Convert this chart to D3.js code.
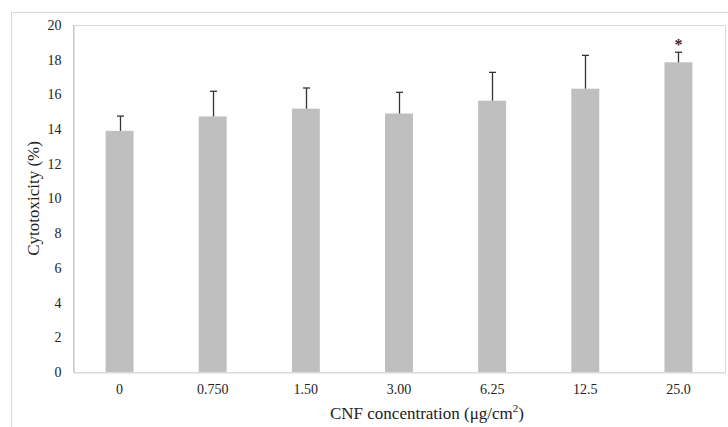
<!DOCTYPE html>
<html>
<head>
<meta charset="utf-8">
<script src="https://cdn.jsdelivr.net/npm/d3@7"></script>
<style>
  html, body { margin: 0; padding: 0; background: #fff; }
  svg { display: block; }
  svg text { font-family: "Liberation Serif", "DejaVu Serif", serif; fill: #222; }
</style>
</head>
<body>
<svg id="chart" width="728" height="427"></svg>
<script>
// CNF cytotoxicity data (mean and SD, %)
const categories = ["0", "0.750", "1.50", "3.00", "6.25", "12.5", "25.0"];
const means = [13.9, 14.73, 15.18, 14.9, 15.64, 16.33, 17.85];
const errors = [0.85, 1.45, 1.19, 1.22, 1.63, 1.92, 0.58];
const significant = [false, false, false, false, false, false, true];
const yTicks = [0, 2, 4, 6, 8, 10, 12, 14, 16, 18, 20];

const svg = d3.select("#chart");
const margin = { left: 73, right: 3, top: 25, bottom: 55 };
const W = 728, H = 427;
const serif = "'Liberation Serif', 'DejaVu Serif', serif";

// outer frame
svg.append("rect")
  .attr("x", 11.5).attr("y", 12.5)
  .attr("width", W + 10).attr("height", H + 10)
  .attr("fill", "none").attr("stroke", "#d9d9d9");

const x = d3.scaleBand()
  .domain(categories)
  .range([margin.left, W - margin.right])
  .paddingInner(0.7).paddingOuter(0.35);

const y = d3.scaleLinear()
  .domain([0, 20])
  .range([H - margin.bottom, margin.top]);

// plot area border
svg.append("rect")
  .attr("x", margin.left + 0.5).attr("y", margin.top + 0.5)
  .attr("width", W - margin.right - margin.left)
  .attr("height", y(0) - margin.top)
  .attr("fill", "none").attr("stroke", "#d9d9d9");

// bars
const data = categories.map((c, i) => ({ c, m: means[i], e: errors[i], s: significant[i] }));
svg.append("g").selectAll("rect").data(data).join("rect")
  .attr("x", d => x(d.c))
  .attr("y", d => y(d.m))
  .attr("width", x.bandwidth())
  .attr("height", d => y(0) - y(d.m))
  .attr("fill", "#bfbfbf");

// error bars (upper only)
const eg = svg.append("g").attr("stroke", "#333").attr("stroke-width", 1.3);
data.forEach(d => {
  const cx = Math.round(x(d.c) + x.bandwidth() / 2) + 0.5;
  eg.append("line").attr("x1", cx).attr("x2", cx)
    .attr("y1", y(d.m)).attr("y2", y(d.m + d.e));
  eg.append("line").attr("x1", cx - 3.5).attr("x2", cx + 3.5)
    .attr("y1", y(d.m + d.e)).attr("y2", y(d.m + d.e));
});

// significance marks
svg.append("g").selectAll("text").data(data.filter(d => d.s)).join("text")
  .attr("x", d => x(d.c) + x.bandwidth() / 2)
  .attr("y", d => y(d.m + d.e) - 2)
  .attr("text-anchor", "middle")
  .attr("font-size", 16)
  .attr("font-weight", "bold")
  .style("fill", "#4a1f1f")
  .text("*");

// y axis
const yAxis = svg.append("g")
  .attr("transform", `translate(${margin.left + 0.5},0)`)
  .call(d3.axisLeft(y).tickValues(yTicks).tickSize(0).tickPadding(12));
yAxis.attr("font-family", serif).attr("font-size", 14);
yAxis.select(".domain").attr("stroke", "#bfbfbf");
yAxis.selectAll("text").style("font-size", "14px").style("fill", "#222");

// x axis
const xAxis = svg.append("g")
  .attr("transform", `translate(0,${y(0) + 0.5})`)
  .call(d3.axisBottom(x).tickSize(0).tickPadding(12));
xAxis.attr("font-family", serif).attr("font-size", 14);
xAxis.select(".domain").attr("stroke", "#d9d9d9");
xAxis.selectAll("text").style("font-size", "14px").style("fill", "#222");

// axis titles
svg.append("text")
  .attr("transform", `translate(39,${(y(0) + margin.top) / 2}) rotate(-90)`)
  .attr("text-anchor", "middle")
  .style("font-size", "17px")
  .text("Cytotoxicity (%)");

const xt = svg.append("text")
  .attr("x", 427).attr("y", 419)
  .attr("text-anchor", "middle")
  .style("font-size", "17px");
xt.append("tspan").text("CNF concentration (μg/cm");
xt.append("tspan").style("font-size", "11px").attr("dy", -7).text("2");
xt.append("tspan").attr("dy", 7).text(")");
</script>
</body>
</html>
